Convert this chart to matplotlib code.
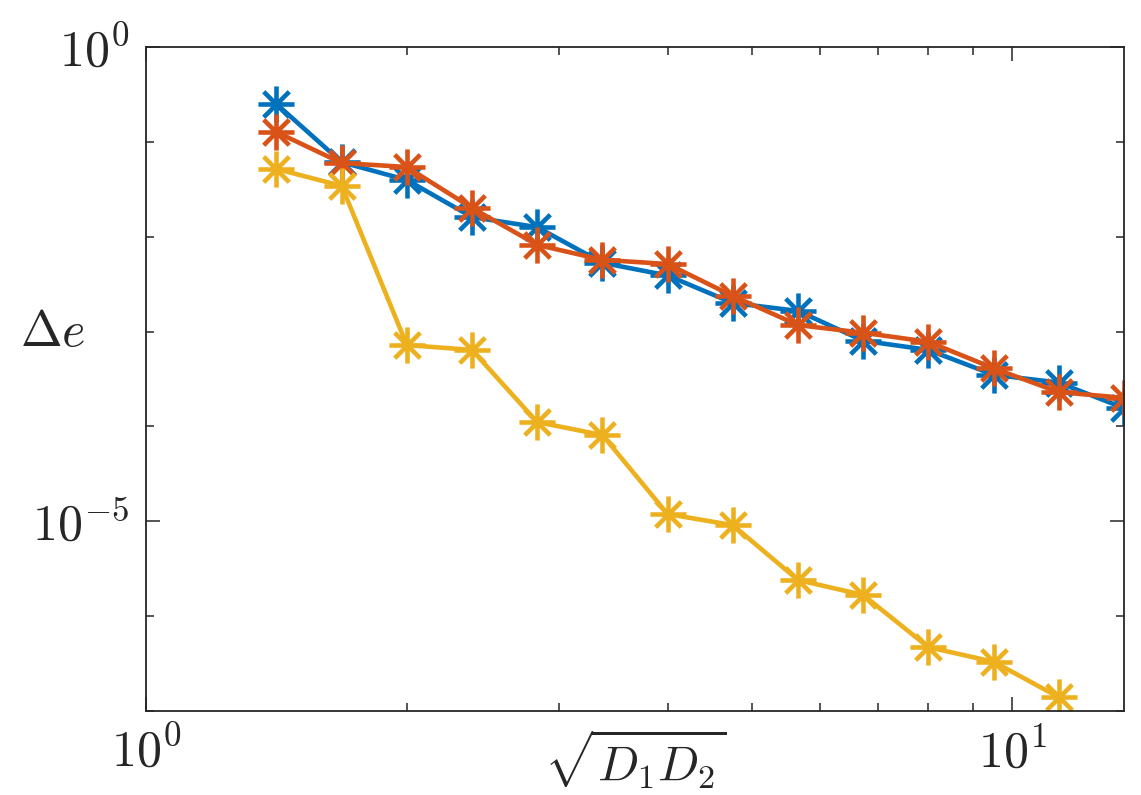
import numpy as np
import matplotlib
matplotlib.use("Agg")
import matplotlib.pyplot as plt
from matplotlib.path import Path
from matplotlib.ticker import NullFormatter

plt.rcParams['mathtext.fontset'] = 'cm'
plt.rcParams['font.family'] = 'DejaVu Serif'

# sqrt(D1*D2) grid
x_vals = [1.414, 1.682, 2.0, 2.378, 2.828, 3.364, 4.0, 4.757, 5.657, 6.727,
          8.0, 9.514, 11.31, 13.45]

err_blue = [2.51e-1, 6.1e-2, 3.96e-2, 1.61e-2, 1.26e-2, 5.3e-3, 3.9e-3,
            2.0e-3, 1.65e-3, 8.0e-4, 6.4e-4, 3.5e-4, 2.9e-4, 1.56e-4]
err_orange = [1.27e-1, 5.98e-2, 5.43e-2, 2.01e-2, 8.2e-3, 5.7e-3, 5.15e-3,
              2.37e-3, 1.17e-3, 9.7e-4, 7.8e-4, 4.1e-4, 2.3e-4, 2.0e-4]
err_yellow = [5.18e-2, 3.43e-2, 7.2e-4, 6.4e-4, 1.11e-4, 8.1e-5, 1.19e-5,
              9.1e-6, 2.4e-6, 1.67e-6, 4.7e-7, 3.3e-7, 1.4e-7]

# 8-armed asterisk marker
arms = []
codes = []
for ang in np.deg2rad([0, 45, 90, 135]):
    c, s = np.cos(ang), np.sin(ang)
    arms += [(-c, -s), (c, s)]
    codes += [Path.MOVETO, Path.LINETO]
asterisk = Path(arms, codes)

fig = plt.figure(figsize=(11.41, 7.95), dpi=100)
ax = fig.add_axes([0.128, 0.1057, 0.857, 0.8352])

style = dict(marker=asterisk, markersize=26, markeredgewidth=3.3,
             markerfacecolor='none', linewidth=3.3)
ax.plot(x_vals, err_blue, color='#0072BD', **style)
ax.plot(x_vals, err_orange, color='#D95319', **style)
ax.plot(x_vals[:len(err_yellow)], err_yellow, color='#EDB120', **style)

ax.set_xscale('log')
ax.set_yscale('log')
ax.set_xlim(1, 13.45)
ax.set_ylim(1e-7, 1e0)

ax.set_xticks([1, 10])
ax.set_xticklabels([r'$10^{0}$', r'$10^{1}$'])
ax.set_xticks(list(range(2, 10)), minor=True)
ax.set_yticks([1e-5, 1e0])
ax.set_yticklabels([r'$10^{-5}$', r'$10^{0}$'])
ax.set_yticks([1e-7, 1e-6, 1e-4, 1e-3, 1e-2, 1e-1], minor=True)
ax.xaxis.set_minor_formatter(NullFormatter())
ax.yaxis.set_minor_formatter(NullFormatter())

ax.tick_params(which='both', direction='in', top=True, right=True,
               colors='#262626', labelsize=36, width=1.1)
ax.tick_params(which='major', length=10, pad=12)
ax.tick_params(which='minor', length=6)
for sp in ax.spines.values():
    sp.set_color('#262626')
    sp.set_linewidth(1.3)

ax.set_xlabel(r'$\sqrt{D_1 D_2}$', fontsize=35, color='#262626')
ax.xaxis.set_label_coords(0.5, -0.024)
ax.xaxis.label.set_va('top')
ax.set_ylabel(r'$\Delta e$', fontsize=36, color='#262626', rotation=0)
ax.yaxis.set_label_coords(-0.096, 0.57)
ax.yaxis.label.set_va('center')
ax.yaxis.label.set_ha('center')

fig.savefig('out.png', dpi=100)
